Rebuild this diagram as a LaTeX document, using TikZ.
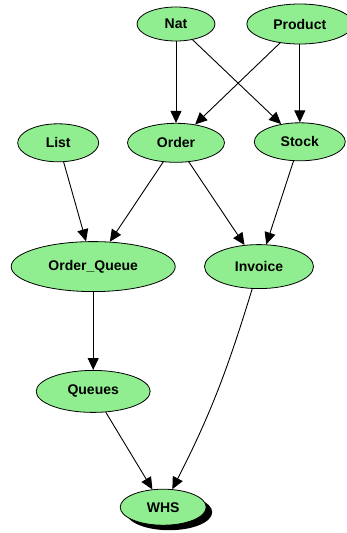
\documentclass[tikz,border=0pt]{standalone}
\usepackage{fontspec}
\setmainfont{Liberation Sans}
\usetikzlibrary{arrows.meta, positioning, shapes.geometric, shadows}
\definecolor{lightgreen}{RGB}{144,238,144}

\begin{document}
\begin{tikzpicture}[
    node distance=30pt,
    state/.style={ellipse, draw, fill=lightgreen, line width=0.8pt, inner sep=0pt,
        font=\fontsize{14}{16}\selectfont\bfseries},
    link/.style={-{Triangle[length=12pt, width=11pt]}, line width=0.9pt}
]
\useasboundingbox (0,0) rectangle (346pt,-533pt);

% Top row
\node[state, minimum width=78pt, minimum height=34pt] (nat) at (176pt,-24pt) {Nat};
\node[state, minimum width=106pt, minimum height=40pt, right=31pt of nat] (product) {Product};

% Second row
\node[state, minimum width=97pt, minimum height=39pt, below=81.5pt of nat] (order) {Order};
\node[state, minimum width=91pt, minimum height=38pt, below=78pt of product] (stock) {Stock};
\node[state, minimum width=81pt, minimum height=38pt, left=28pt of order] (list) {List};

% Third row
\node[state, minimum width=164pt, minimum height=50pt, below=79pt of list, xshift=35pt] (orderqueue) {Order\_Queue};
\node[state, minimum width=109pt, minimum height=44pt, right=28.5pt of orderqueue] (invoice) {Invoice};

% Bottom
\node[state, minimum width=114pt, minimum height=42pt, below=78pt of orderqueue] (queues) {Queues};
\node[state, minimum width=86pt, minimum height=36pt, below=76pt of queues, xshift=70pt,
    drop shadow={shadow xshift=6pt, shadow yshift=-5pt, fill=black, opacity=1}] (whs) {WHS};

% Edges
\draw[link] (nat) -- (order);
\draw[link] (nat) -- (stock);
\draw[link] (product) -- (order);
\draw[link] (product) -- (stock);
\draw[link] (list) -- (orderqueue);
\draw[link] (order) -- (orderqueue);
\draw[link] (order) -- (invoice);
\draw[link] (stock) -- (invoice);
\draw[link] (orderqueue) -- (queues);
\draw[link] (queues) -- (whs);
\draw[link] (invoice) to[out=-107, in=63] (whs);

\end{tikzpicture}
\end{document}
